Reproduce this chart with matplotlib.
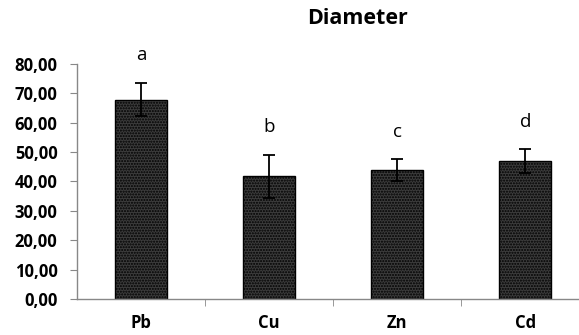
import matplotlib

matplotlib.use("Agg")
import matplotlib.pyplot as plt
from matplotlib.ticker import FixedLocator, FuncFormatter

metals = ["Pb", "Cu", "Zn", "Cd"]
diameter = [67.9, 41.8, 43.9, 46.9]
diameter_err = [5.7, 7.3, 3.6, 4.0]
groups = ["a", "b", "c", "d"]

plt.rcParams["font.family"] = ["Open Sans", "DejaVu Sans"]
plt.rcParams["hatch.color"] = "#2a2a2a"

fig = plt.figure(figsize=(5.79, 3.35), dpi=100)
ax = fig.add_axes([0.133, 0.1075, 0.867, 0.7015])

x = list(range(len(metals)))
ax.bar(x, diameter, width=0.41, color="#3c3c3c", edgecolor="black",
       linewidth=1.0, hatch="......", zorder=2)
ax.errorbar(x, diameter, yerr=diameter_err, fmt="none", ecolor="black",
            elinewidth=1.3, capsize=4, capthick=1.3, zorder=3)

for xi, m, e, g in zip(x, diameter, diameter_err, groups):
    ax.annotate(g, (xi, m + e), xytext=(0, 20), textcoords="offset points",
                ha="center", va="center", fontsize=13.5)

ax.set_ylim(0, 80)
ax.set_xlim(-0.5, 3.42)
ax.set_yticks(range(0, 81, 10))
ax.yaxis.set_major_formatter(FuncFormatter(lambda v, p: f"{v:.2f}".replace(".", ",")))
ax.set_xticks(x)
ax.set_xticklabels(metals, fontweight="bold", fontsize=12)
ax.xaxis.set_minor_locator(FixedLocator([0.5, 1.5, 2.5]))
ax.tick_params(axis="x", which="major", length=0, pad=11)
ax.tick_params(axis="x", which="minor", length=5, color="#888888", direction="out")
ax.tick_params(axis="y", length=5, color="#888888", direction="out", pad=9)
for lbl in ax.get_yticklabels():
    lbl.set_fontweight("bold")
    lbl.set_fontsize(12)

for side in ("top", "right"):
    ax.spines[side].set_visible(False)
for side in ("left", "bottom"):
    ax.spines[side].set_color("#888888")
    ax.spines[side].set_linewidth(1.0)

fig.text(0.618, 0.946, "Diameter", ha="center", va="center",
         fontsize=15.5, fontweight="bold")

fig.savefig("out.png", dpi=100)
